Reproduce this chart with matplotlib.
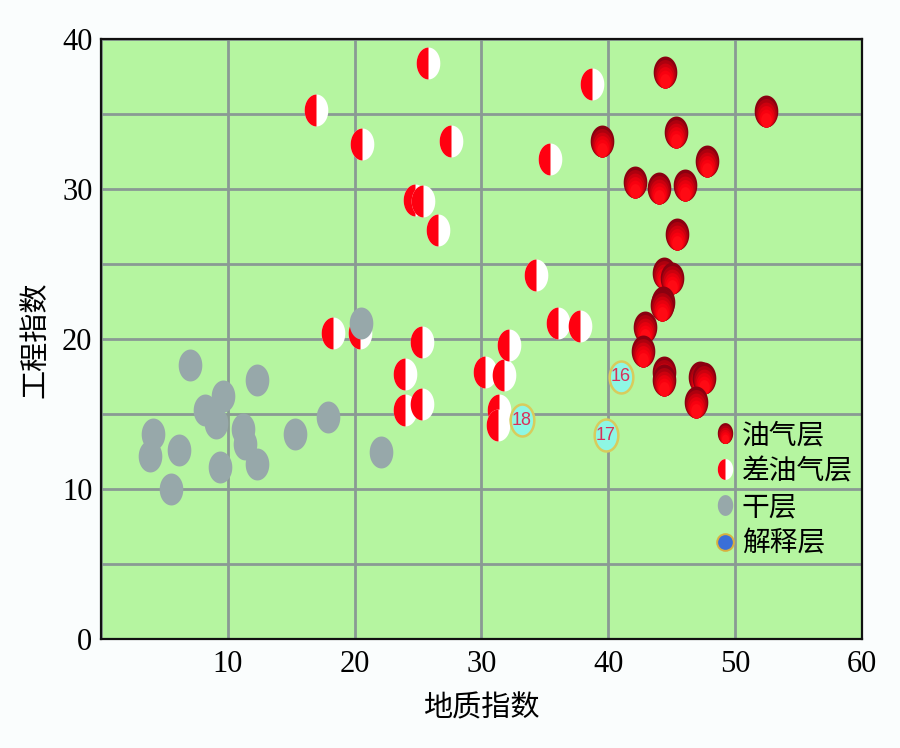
import numpy as np
import matplotlib
matplotlib.use("Agg")
import matplotlib.pyplot as plt
from matplotlib.path import Path
from matplotlib.legend_handler import HandlerTuple
from matplotlib.lines import Line2D

# 油气层 (full red)
oil_x = [44.5, 52.4, 39.5, 45.3, 47.8, 42.1, 44.0, 46.0, 45.4, 44.4, 45.0, 44.3, 44.2,
         42.9, 42.7, 44.4, 44.4, 47.2, 47.5, 46.9]
oil_y = [37.8, 35.2, 33.2, 33.8, 31.9, 30.5, 30.1, 30.3, 27.0, 24.4, 24.1, 22.5, 22.3,
         20.8, 19.2, 17.8, 17.3, 17.5, 17.4, 15.8]

# 差油气层 (half red / white)
poor_x = [25.8, 17.0, 20.6, 27.6, 24.8, 25.4, 26.6, 38.7, 35.4, 34.3, 36.0, 37.8,
          18.3, 20.4, 24.0, 24.0, 25.3, 25.3, 30.3, 31.8, 32.2, 31.4, 31.3]
poor_y = [38.4, 35.3, 33.0, 33.2, 29.3, 29.2, 27.3, 37.0, 32.0, 24.3, 21.1, 20.9,
          20.4, 20.4, 17.7, 15.3, 19.8, 15.7, 17.8, 17.6, 19.6, 15.3, 14.3]

# 干层 (grey)
dry_x = [7.0, 12.3, 9.6, 8.2, 9.1, 4.1, 3.9, 6.2, 5.5, 9.4, 11.2, 11.4, 12.3,
         15.3, 17.9, 22.1, 20.5]
dry_y = [18.3, 17.3, 16.2, 15.3, 14.4, 13.7, 12.2, 12.6, 10.0, 11.5, 14.0, 13.0, 11.7,
         13.7, 14.8, 12.5, 21.1]

# 解释层 (numbered)
interp_x = [41.0, 39.8, 33.2]
interp_y = [17.5, 13.6, 14.6]
interp_lbl = ["16", "17", "18"]

x_ticks = [10, 20, 30, 40, 50, 60]
y_ticks = [0, 10, 20, 30, 40]

CJK = ["Noto Sans CJK SC", "DejaVu Sans"]
SERIF = ["Liberation Serif", "DejaVu Serif"]


def ellipse_path(w=0.37, h=0.5, cy=0.0, half=None, n=60):
    # closed ellipse (or left half) used as a marker shape
    if half == "left":
        t = np.linspace(np.pi / 2, 3 * np.pi / 2, n)
    else:
        t = np.linspace(0, 2 * np.pi, n)
    v = np.column_stack([w * np.cos(t), cy + h * np.sin(t)])
    v = np.vstack([v, v[:1]])
    codes = [Path.MOVETO] + [Path.LINETO] * (len(v) - 2) + [Path.CLOSEPOLY]
    return Path(v, codes)


FULL = ellipse_path()
LEFT = ellipse_path(half="left")
# gradient layers for the red markers: dark on top, bright at the bottom
grad_cols = ["#8a0010", "#ad000e", "#cc000e", "#e6000e", "#f8000f", "#ff0a14"]
grad_paths = []
for k, c in enumerate(grad_cols):
    s = 1 - 0.11 * k
    grad_paths.append((ellipse_path(0.37 * s, 0.5 * s, -0.5 + 0.5 * s), c))

MS = 23

fig = plt.figure(figsize=(9, 7.48), dpi=100, facecolor="#fafdfd")
ax = fig.add_axes([0.1119, 0.1453, 0.8461, 0.8022])
ax.set_facecolor("#b5f5a0")
ax.set_xlim(0, 60)
ax.set_ylim(0, 40)

ax.set_xticks(x_ticks)
ax.set_yticks(y_ticks)
ax.set_xticks(np.arange(0, 61, 10), minor=True)
ax.set_yticks(np.arange(0, 41, 5), minor=True)
ax.grid(True, which="both", color="#8a9a94", linewidth=2.0)
ax.set_axisbelow(True)
ax.tick_params(which="both", length=0)
ax.tick_params(axis="x", pad=8)
ax.tick_params(axis="y", pad=6)
for lab in ax.get_xticklabels() + ax.get_yticklabels():
    lab.set_family(SERIF)
    lab.set_fontsize(22)
for sp in ax.spines.values():
    sp.set_linewidth(1.6)
    sp.set_color("#111111")

# half markers
for x, y in zip(poor_x, poor_y):
    ax.plot([x], [y], ls="none", marker=FULL, ms=MS, mfc="white", mec="white", mew=0, zorder=3)
    ax.plot([x], [y], ls="none", marker=LEFT, ms=MS, mfc="#ff0010", mec="#ff0010", mew=0, zorder=3)

# dry layer
ax.plot(dry_x, dry_y, ls="none", marker=FULL, ms=MS, mfc="#97a8aa", mec="#97a8aa", mew=0, zorder=4)

# oil layer with gradient
for x, y in zip(oil_x, oil_y):
    for p, c in grad_paths:
        ax.plot([x], [y], ls="none", marker=p, ms=MS, mfc=c, mec=c, mew=0, zorder=5)

# interpreted layers
for x, y, t in zip(interp_x, interp_y, interp_lbl):
    ax.plot([x], [y], ls="none", marker=FULL, ms=MS, mfc="#8ef7e4", mec="#d8cc5c", mew=1.8, zorder=6)
    ax.text(x, y, t, ha="center", va="center", fontsize=13, color="#d8305a",
            family=["Liberation Sans Narrow", "Liberation Sans", "DejaVu Sans"], zorder=7)

ax.set_xlabel("地质指数", family=CJK, fontsize=21, labelpad=10)
ax.set_ylabel("工程指数", family=CJK, fontsize=21, labelpad=8)

# legend
LMS = 15
h_oil = tuple(Line2D([], [], ls="none", marker=p, ms=LMS, mfc=c, mec=c, mew=0) for p, c in grad_paths)
h_poor = (Line2D([], [], ls="none", marker=FULL, ms=LMS, mfc="white", mec="white", mew=0),
          Line2D([], [], ls="none", marker=LEFT, ms=LMS, mfc="#ff0010", mec="#ff0010", mew=0))
h_dry = Line2D([], [], ls="none", marker=FULL, ms=LMS, mfc="#97a8aa", mec="#97a8aa", mew=0)
h_int = Line2D([], [], ls="none", marker="o", ms=LMS - 3, mfc="#3a6fd8", mec="#d8b040", mew=1.4)
leg = ax.legend([h_oil, h_poor, h_dry, h_int], ["油气层", "差油气层", "干层", "解释层"],
                handler_map={tuple: HandlerTuple(ndivide=1)},
                loc="upper left", bbox_to_anchor=(718 / 900, 1 - 420 / 748),
                bbox_transform=fig.transFigure, frameon=False, prop={"family": CJK, "size": 20},
                handlelength=0.5, handletextpad=0.35, labelspacing=0.22, borderpad=0, borderaxespad=0)

fig.savefig("out.png", dpi=100, facecolor=fig.get_facecolor())
